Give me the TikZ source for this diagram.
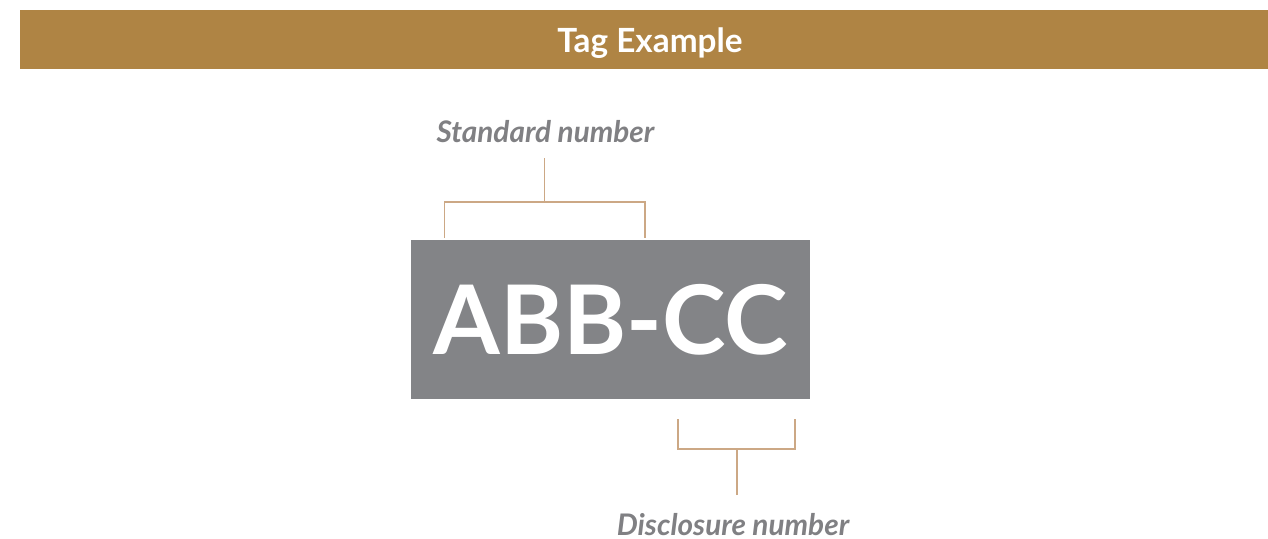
\documentclass[tikz,border=0pt]{standalone}
\usepackage{fontspec}
\setmainfont{Lato}
\usepackage{tikz}
\usetikzlibrary{calc}

\definecolor{bargold}{RGB}{175,132,68}
\definecolor{taggray}{RGB}{131,132,135}
\definecolor{labelgray}{RGB}{128,128,131}
\definecolor{linetan}{RGB}{204,168,133}

\tikzset{
    titletext/.style={text=white, font=\bfseries\fontsize{25}{28}\selectfont, inner sep=0, anchor=base},
    tagbox/.style={fill=taggray, text=white, font=\bfseries\fontsize{72}{80}\selectfont,
        minimum width=299.25pt, minimum height=119.25pt, inner sep=0},
    partlabel/.style={text=labelgray, font=\bfseries\itshape\fontsize{22.3}{25}\selectfont, inner sep=0, anchor=base},
    bracket/.style={draw=linetan, line width=0.9pt}
}

\begin{document}
\begin{tikzpicture}[x=0.75pt, y=-0.75pt]
        \useasboundingbox (0,0) rectangle (1268,539);
        \fill[bargold] (20,10) rectangle (1268,69);
        \node[titletext] (title) at (650,52) {Tag Example};
        \node[tagbox] (tag) at (610.5,319.5) {ABB-CC};
        \node[partlabel] (std) at (545.5,142) {Standard number};
        \node[partlabel] (disc) at (733,535) {Disclosure number};
        % standard number bracket
        \coordinate (stdtop) at (544.5,158);
        \coordinate (stdmid) at (544.5,202);
        \coordinate (stdleft) at (444.5,238);
        \coordinate (stdright) at (645,238);
        \draw[bracket] (stdtop) -- (stdmid);
        \draw[bracket] (stdleft) |- (stdmid) -| (stdright);
        % disclosure number bracket
        \coordinate (discbot) at (737,495);
        \coordinate (discmid) at (737,449);
        \coordinate (discleft) at (678,419);
        \coordinate (discright) at (795,419);
        \draw[bracket] (discbot) -- (discmid);
        \draw[bracket] (discleft) |- (discmid) -| (discright);
    \end{tikzpicture}
\end{document}
